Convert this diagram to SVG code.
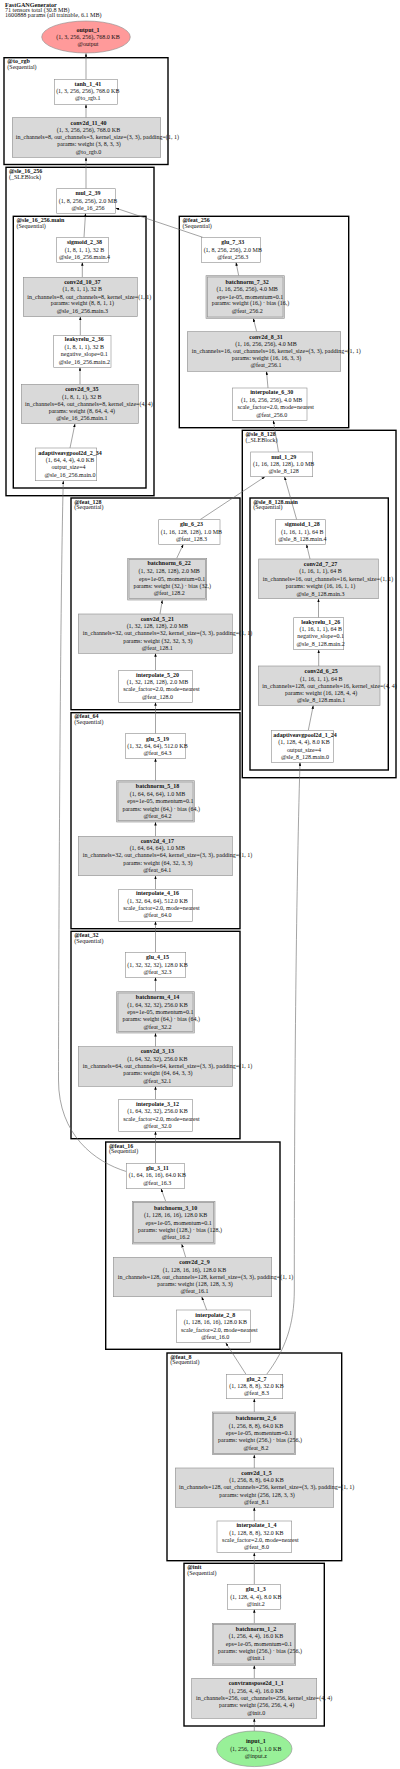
<svg xmlns="http://www.w3.org/2000/svg" width="400" height="1769" viewBox="0 0 400 1769">
<style>
text{font-family:"Liberation Serif","Times New Roman",serif;font-size:6px;fill:#111}
.h{font-size:6.1px}
.b{font-weight:bold}
.m{text-anchor:middle}
.n{fill:#fff;stroke:#8c8c8c;stroke-width:0.6}
.g{fill:#d9d9d9;stroke:#8c8c8c;stroke-width:0.6}
.cl{fill:none;stroke:#000;stroke-width:1.4}
.e{fill:none;stroke:#666;stroke-width:0.6;marker-end:url(#ah)}
</style>
<defs>
<marker id="ah" viewBox="0 0 10 7" refX="10" refY="3.5" markerWidth="3.6" markerHeight="2.5" markerUnits="userSpaceOnUse" orient="auto"><path d="M0,0 L10,3.5 L0,7 z" fill="#000"/></marker>
</defs>
<rect width="400" height="1769" fill="#fff"/>
<g id="header">
<text x="5" y="7" class="h b">FastGANGenerator</text>
<text x="5" y="12" class="h">71 tensors total (30.8 MB)</text>
<text x="5" y="17" class="h">1600888 params (all trainable, 6.1 MB)</text>
</g>
<g id="clusters">
<g id="cl_to_rgb"><rect class="cl" x="4" y="57.7" width="164" height="106.8"/><text x="7.3" y="63.4" class="b">@to_rgb</text><text x="7.3" y="68.9">(Sequential)</text></g>
<g id="cl_sle_16_256"><rect class="cl" x="6" y="167.3" width="148" height="328.4"/><text x="9" y="173" class="b">@sle_16_256</text><text x="9" y="178.5">(_SLEBlock)</text></g>
<g id="cl_sle_16_256_main"><rect class="cl" x="13.3" y="216.3" width="132.7" height="271.7"/><text x="16.5" y="222" class="b">@sle_16_256.main</text><text x="16.5" y="227.5">(Sequential)</text></g>
<g id="cl_feat_256"><rect class="cl" x="179.3" y="216.3" width="169.4" height="211.4"/><text x="182.5" y="222" class="b">@feat_256</text><text x="182.5" y="227.5">(Sequential)</text></g>
<g id="cl_sle_8_128"><rect class="cl" x="242.3" y="430.3" width="153.7" height="347.4"/><text x="245.5" y="436" class="b">@sle_8_128</text><text x="245.5" y="441.5">(_SLEBlock)</text></g>
<g id="cl_sle_8_128_main"><rect class="cl" x="250" y="498" width="138.3" height="272"/><text x="253.2" y="503.7" class="b">@sle_8_128.main</text><text x="253.2" y="509.2">(Sequential)</text></g>
<g id="cl_feat_128"><rect class="cl" x="71" y="498" width="169" height="211.7"/><text x="74.2" y="503.7" class="b">@feat_128</text><text x="74.2" y="509.2">(Sequential)</text></g>
<g id="cl_feat_64"><rect class="cl" x="71" y="712.7" width="169" height="216"/><text x="74.2" y="718.4" class="b">@feat_64</text><text x="74.2" y="723.9">(Sequential)</text></g>
<g id="cl_feat_32"><rect class="cl" x="71" y="931.3" width="169" height="207.4"/><text x="74.2" y="937" class="b">@feat_32</text><text x="74.2" y="942.5">(Sequential)</text></g>
<g id="cl_feat_16"><rect class="cl" x="105.7" y="1142" width="174.3" height="207.3"/><text x="108.9" y="1147.7" class="b">@feat_16</text><text x="108.9" y="1153.2">(Sequential)</text></g>
<g id="cl_feat_8"><rect class="cl" x="167" y="1353" width="174.7" height="207.7"/><text x="170.2" y="1358.7" class="b">@feat_8</text><text x="170.2" y="1364.2">(Sequential)</text></g>
<g id="cl_init"><rect class="cl" x="184" y="1563.3" width="140.3" height="162.7"/><text x="187.2" y="1569" class="b">@init</text><text x="187.2" y="1574.5">(Sequential)</text></g>
</g>
<g id="connectors">
<path class="e" d="M86,79.3 L86,53.2"/>
<path class="e" d="M86,117.7 L86,104.3"/>
<path class="e" d="M86,188.7 L86,157.3"/>
<path class="e" d="M84,237.3 L85.5,213.3"/>
<path class="e" d="M202.7,237.3 L115.5,208"/>
<path class="e" d="M82.3,277.3 L82.3,262.3"/>
<path class="e" d="M80.3,335.3 L80.3,316.7"/>
<path class="e" d="M80,384.3 L80,367.3"/>
<path class="e" d="M70,448 L75,423.7"/>
<path class="e" d="M126.3,1171.5 C95,1162 58.5,1135 58.5,1080 C58.5,1000 60,600 63.3,480.7"/>
<path class="e" d="M238.7,275.7 L236,262.3"/>
<path class="e" d="M256.7,331.7 L253.3,318.3"/>
<path class="e" d="M268,388 L266.5,371.3"/>
<path class="e" d="M278.5,452 L273.3,420.3"/>
<path class="e" d="M296.7,519.7 L284.5,476.7"/>
<path class="e" d="M200,519.7 L265,476.7"/>
<path class="e" d="M310,559 L306.5,544.3"/>
<path class="e" d="M318.5,617.7 L318.5,598.7"/>
<path class="e" d="M318.7,666 L318.7,649.7"/>
<path class="e" d="M308.3,730.3 L313.3,705.3"/>
<path class="e" d="M266.7,1374.3 C285,1350 294.3,1325 294.3,1290 C294.3,1100 296,900 300,762.3"/>
<path class="e" d="M176.7,558.3 L183.3,544.3"/>
<path class="e" d="M160,614 L162.3,600"/>
<path class="e" d="M155.5,670.3 L155.5,653.3"/>
<path class="e" d="M155.5,733.7 L155.5,702.3"/>
<path class="e" d="M155.5,780.7 L155.5,758.3"/>
<path class="e" d="M155.5,836.3 L155.5,822"/>
<path class="e" d="M155.5,889.3 L155.5,875.7"/>
<path class="e" d="M155.5,952.3 L155.5,921.3"/>
<path class="e" d="M155.5,991.7 L155.5,977.3"/>
<path class="e" d="M155.5,1046.7 L155.5,1033"/>
<path class="e" d="M155.5,1099.3 L155.5,1086.3"/>
<path class="e" d="M155.5,1163.3 L155.5,1131.3"/>
<path class="e" d="M165.7,1201.3 L161,1188.7"/>
<path class="e" d="M185.7,1257.3 L181.7,1244"/>
<path class="e" d="M206.7,1310 L201.7,1296.7"/>
<path class="e" d="M246,1374.3 L225.7,1342.7"/>
<path class="e" d="M254.3,1412 L254.3,1398.7"/>
<path class="e" d="M254.3,1468 L254.3,1454.7"/>
<path class="e" d="M254.3,1521 L254.3,1507.3"/>
<path class="e" d="M254.3,1584.3 L254.3,1552.7"/>
<path class="e" d="M254.3,1623.3 L254.3,1609.3"/>
<path class="e" d="M254.3,1678.3 L254.3,1665.3"/>
<path class="e" d="M254.3,1731 L254.3,1718.3"/>
</g>
<g id="output_1"><ellipse cx="86" cy="37" rx="44.3" ry="16" fill="#ff9a9a" stroke="#8c8c8c" stroke-width="0.6"/>
<text class="m b" x="88" y="32">output_1</text><text class="m" x="88" y="39.3">(1, 3, 256, 256), 768.0 KB</text><text class="m" x="88" y="46.3">@output</text></g>
<g id="tanh_1_41"><rect class="n" x="54.3" y="79.3" width="63" height="25"/>
<text class="m b" x="87.8" y="86">tanh_1_41</text><text class="m" x="87.8" y="93">(1, 3, 256, 256), 768.0 KB</text><text class="m" x="87.8" y="100.3">@to_rgb.1</text></g>
<g id="conv2d_11_40"><rect class="g" x="12.3" y="117.7" width="148.4" height="39.6"/>
<text class="m b" x="88.5" y="124.7">conv2d_11_40</text><text class="m" x="88.5" y="131.7">(1, 3, 256, 256), 768.0 KB</text><text x="15.7" y="138.7" textLength="163.3">in_channels=8, out_channels=3, kernel_size=(3, 3), padding=(1, 1)</text><text class="m" x="89" y="146.3">params: weight (3, 8, 3, 3)</text><text class="m" x="88.5" y="154">@to_rgb.0</text></g>
<g id="mul_2_39"><rect class="n" x="56.7" y="188.7" width="58.6" height="24.6"/>
<text class="m b" x="88" y="195.3">mul_2_39</text><text class="m" x="88" y="202.7">(1, 8, 256, 256), 2.0 MB</text><text class="m" x="88" y="210">@sle_16_256</text></g>
<g id="sigmoid_2_38"><rect class="n" x="56.7" y="237.3" width="51.6" height="25"/>
<text class="m b" x="84.5" y="244.3">sigmoid_2_38</text><text class="m" x="84.5" y="251.7">(1, 8, 1, 1), 32 B</text><text class="m" x="84.5" y="258.7">@sle_16_256.main.4</text></g>
<g id="conv2d_10_37"><rect class="g" x="23.3" y="277.3" width="114" height="39.4"/>
<text class="m b" x="82.3" y="284">conv2d_10_37</text><text class="m" x="82.3" y="291.3">(1, 8, 1, 1), 32 B</text><text x="27.3" y="298.7" textLength="124">in_channels=8, out_channels=8, kernel_size=(1, 1)</text><text class="m" x="82.3" y="305.3">params: weight (8, 8, 1, 1)</text><text class="m" x="82.3" y="313">@sle_16_256.main.3</text></g>
<g id="leakyrelu_2_36"><rect class="n" x="53.7" y="335.3" width="57.3" height="32"/>
<text class="m b" x="84.3" y="341.3">leakyrelu_2_36</text><text class="m" x="84.3" y="348.7">(1, 8, 1, 1), 32 B</text><text class="m" x="84.3" y="356.3">negative_slope=0.1</text><text class="m" x="84.3" y="363.7">@sle_16_256.main.2</text></g>
<g id="conv2d_9_35"><rect class="g" x="21.3" y="384.3" width="117" height="39.4"/>
<text class="m b" x="81.8" y="391.3">conv2d_9_35</text><text class="m" x="81.8" y="398.7">(1, 8, 1, 1), 32 B</text><text x="25" y="405.7" textLength="127.7">in_channels=64, out_channels=8, kernel_size=(4, 4)</text><text class="m" x="81.8" y="413">params: weight (8, 64, 4, 4)</text><text class="m" x="81.8" y="420.3">@sle_16_256.main.1</text></g>
<g id="adaptiveavgpool2d_2_34"><rect class="n" x="35.3" y="448" width="61.4" height="32.7"/>
<text class="m b" x="70" y="455">adaptiveavgpool2d_2_34</text><text class="m" x="70" y="462">(1, 64, 4, 4), 4.0 KB</text><text class="m" x="68.5" y="469.3">output_size=4</text><text class="m" x="70" y="477">@sle_16_256.main.0</text></g>
<g id="glu_7_33"><rect class="n" x="201.3" y="237.3" width="59" height="25"/>
<text class="m b" x="232.8" y="244.3">glu_7_33</text><text class="m" x="232.8" y="251.7">(1, 8, 256, 256), 2.0 MB</text><text class="m" x="232.8" y="258.7">@feat_256.3</text></g>
<g id="batchnorm_7_32"><rect class="g" x="206" y="275.7" width="78.3" height="42.6"/><rect class="g" x="207.3" y="277" width="75.7" height="40"/>
<text class="m b" x="247.2" y="284">batchnorm_7_32</text><text class="m" x="247.2" y="291.3">(1, 16, 256, 256), 4.0 MB</text><text class="m" x="250.2" y="298.7">eps=1e-05, momentum=0.1</text><text x="211.7" y="305.3" textLength="77.5">params: weight (16,) · bias (16,)</text><text class="m" x="247.2" y="313">@feat_256.2</text></g>
<g id="conv2d_8_31"><rect class="g" x="187.3" y="331.7" width="153.4" height="39.6"/>
<text class="m b" x="266" y="338.7">conv2d_8_31</text><text class="m" x="266" y="346">(1, 16, 256, 256), 4.0 MB</text><text x="191.7" y="353" textLength="169">in_channels=16, out_channels=16, kernel_size=(3, 3), padding=(1, 1)</text><text class="m" x="266.5" y="360.3">params: weight (16, 16, 3, 3)</text><text class="m" x="266" y="367.3">@feat_256.1</text></g>
<g id="interpolate_6_30"><rect class="n" x="232.3" y="388" width="74.7" height="32.3"/>
<text class="m b" x="271.7" y="394.3">interpolate_6_30</text><text class="m" x="271.7" y="401.7">(1, 16, 256, 256), 4.0 MB</text><text class="m" x="275.7" y="409.3">scale_factor=2.0, mode=nearest</text><text class="m" x="271.7" y="416.7">@feat_256.0</text></g>
<g id="mul_1_29"><rect class="n" x="250.7" y="452" width="62" height="24.7"/>
<text class="m b" x="283.7" y="458.7">mul_1_29</text><text class="m" x="283.7" y="466">(1, 16, 128, 128), 1.0 MB</text><text class="m" x="283.7" y="473.3">@sle_8_128</text></g>
<g id="sigmoid_1_28"><rect class="n" x="275.3" y="519.7" width="50" height="24.6"/>
<text class="m b" x="302.3" y="526.3">sigmoid_1_28</text><text class="m" x="302.3" y="533.7">(1, 16, 1, 1), 64 B</text><text class="m" x="302.3" y="541">@sle_8_128.main.4</text></g>
<g id="conv2d_7_27"><rect class="g" x="258.7" y="559" width="119.6" height="39.7"/>
<text class="m b" x="320.5" y="566">conv2d_7_27</text><text class="m" x="320.5" y="573.3">(1, 16, 1, 1), 64 B</text><text x="262.7" y="580.7" textLength="130.6">in_channels=16, out_channels=16, kernel_size=(1, 1)</text><text class="m" x="320.5" y="588">params: weight (16, 16, 1, 1)</text><text class="m" x="320.5" y="595.7">@sle_8_128.main.3</text></g>
<g id="leakyrelu_1_26"><rect class="n" x="293.7" y="617.7" width="50" height="32"/>
<text class="m b" x="320.7" y="623.7">leakyrelu_1_26</text><text class="m" x="320.7" y="631">(1, 16, 1, 1), 64 B</text><text class="m" x="320.7" y="638.3">negative_slope=0.1</text><text class="m" x="320.7" y="646.3">@sle_8_128.main.2</text></g>
<g id="conv2d_6_25"><rect class="g" x="258.3" y="666" width="121.7" height="39.3"/>
<text class="m b" x="321.2" y="673">conv2d_6_25</text><text class="m" x="321.2" y="680.7">(1, 16, 1, 1), 64 B</text><text x="262.3" y="688" textLength="134.4">in_channels=128, out_channels=16, kernel_size=(4, 4)</text><text class="m" x="321.2" y="695">params: weight (16, 128, 4, 4)</text><text class="m" x="321.2" y="702.3">@sle_8_128.main.1</text></g>
<g id="adaptiveavgpool2d_1_24"><rect class="n" x="271.3" y="730.3" width="62" height="32"/>
<text class="m b" x="305" y="736.7">adaptiveavgpool2d_1_24</text><text class="m" x="304" y="744.3">(1, 128, 4, 4), 8.0 KB</text><text class="m" x="304" y="751.7">output_size=4</text><text class="m" x="305" y="758.7">@sle_8_128.main.0</text></g>
<g id="glu_6_23"><rect class="n" x="158.7" y="519.7" width="61.3" height="24.6"/>
<text class="m b" x="191.4" y="526.3">glu_6_23</text><text class="m" x="191.4" y="533.7">(1, 16, 128, 128), 1.0 MB</text><text class="m" x="191.4" y="541">@feat_128.3</text></g>
<g id="batchnorm_6_22"><rect class="g" x="127.7" y="558.3" width="79" height="41.7"/><rect class="g" x="129" y="559.6" width="76.4" height="39.1"/>
<text class="m b" x="169.2" y="565.3">batchnorm_6_22</text><text class="m" x="169.2" y="573">(1, 32, 128, 128), 2.0 MB</text><text class="m" x="172.2" y="580.7">eps=1e-05, momentum=0.1</text><text x="133.4" y="588" textLength="77.5">params: weight (32,) · bias (32,)</text><text class="m" x="169.2" y="595.3">@feat_128.2</text></g>
<g id="conv2d_5_21"><rect class="g" x="78.3" y="614" width="154" height="39.3"/>
<text class="m b" x="157.3" y="620.7">conv2d_5_21</text><text class="m" x="157.3" y="628">(1, 32, 128, 128), 2.0 MB</text><text x="82.7" y="635.3" textLength="169.6">in_channels=32, out_channels=32, kernel_size=(3, 3), padding=(1, 1)</text><text class="m" x="157.8" y="642.7">params: weight (32, 32, 3, 3)</text><text class="m" x="157.3" y="650">@feat_128.1</text></g>
<g id="interpolate_5_20"><rect class="n" x="118.7" y="670.3" width="73.6" height="32"/>
<text class="m b" x="157.5" y="676.7">interpolate_5_20</text><text class="m" x="157.5" y="684">(1, 32, 128, 128), 2.0 MB</text><text class="m" x="161.5" y="691.3">scale_factor=2.0, mode=nearest</text><text class="m" x="157.5" y="698.7">@feat_128.0</text></g>
<g id="glu_5_19"><rect class="n" x="125.3" y="733.7" width="60.4" height="24.6"/>
<text class="m b" x="157.5" y="740.7">glu_5_19</text><text class="m" x="157.5" y="748">(1, 32, 64, 64), 512.0 KB</text><text class="m" x="157.5" y="755.3">@feat_64.3</text></g>
<g id="batchnorm_5_18"><rect class="g" x="116.7" y="780.7" width="77.6" height="41.3"/><rect class="g" x="118" y="782" width="75" height="38.7"/>
<text class="m b" x="157.5" y="788">batchnorm_5_18</text><text class="m" x="157.5" y="795.7">(1, 64, 64, 64), 1.0 MB</text><text class="m" x="160.5" y="803">eps=1e-05, momentum=0.1</text><text x="122.4" y="810.7" textLength="77.5">params: weight (64,) · bias (64,)</text><text class="m" x="157.5" y="818">@feat_64.2</text></g>
<g id="conv2d_4_17"><rect class="g" x="78.3" y="836.3" width="154" height="39.4"/>
<text class="m b" x="157.3" y="842.7">conv2d_4_17</text><text class="m" x="157.3" y="850">(1, 64, 64, 64), 1.0 MB</text><text x="82.7" y="857.3" textLength="169.6">in_channels=32, out_channels=64, kernel_size=(3, 3), padding=(1, 1)</text><text class="m" x="157.8" y="864.7">params: weight (64, 32, 3, 3)</text><text class="m" x="157.3" y="872">@feat_64.1</text></g>
<g id="interpolate_4_16"><rect class="n" x="118.7" y="889.3" width="73.6" height="32"/>
<text class="m b" x="157.5" y="895.3">interpolate_4_16</text><text class="m" x="157.5" y="902.7">(1, 32, 64, 64), 512.0 KB</text><text class="m" x="161.5" y="910">scale_factor=2.0, mode=nearest</text><text class="m" x="157.5" y="917.3">@feat_64.0</text></g>
<g id="glu_4_15"><rect class="n" x="125.3" y="952.3" width="60.4" height="25"/>
<text class="m b" x="157.5" y="959.3">glu_4_15</text><text class="m" x="157.5" y="966.7">(1, 32, 32, 32), 128.0 KB</text><text class="m" x="157.5" y="974">@feat_32.3</text></g>
<g id="batchnorm_4_14"><rect class="g" x="116.7" y="991.7" width="77.6" height="41.3"/><rect class="g" x="118" y="993" width="75" height="38.7"/>
<text class="m b" x="157.5" y="999">batchnorm_4_14</text><text class="m" x="157.5" y="1006.7">(1, 64, 32, 32), 256.0 KB</text><text class="m" x="160.5" y="1014">eps=1e-05, momentum=0.1</text><text x="122.4" y="1021.3" textLength="77.5">params: weight (64,) · bias (64,)</text><text class="m" x="157.5" y="1028.7">@feat_32.2</text></g>
<g id="conv2d_3_13"><rect class="g" x="78.3" y="1046.7" width="154" height="39.6"/>
<text class="m b" x="157.3" y="1053.3">conv2d_3_13</text><text class="m" x="157.3" y="1060.7">(1, 64, 32, 32), 256.0 KB</text><text x="82.7" y="1068" textLength="169.6">in_channels=64, out_channels=64, kernel_size=(3, 3), padding=(1, 1)</text><text class="m" x="157.8" y="1075.3">params: weight (64, 64, 3, 3)</text><text class="m" x="157.3" y="1082.7">@feat_32.1</text></g>
<g id="interpolate_3_12"><rect class="n" x="118.7" y="1099.3" width="73.6" height="32"/>
<text class="m b" x="157.5" y="1106">interpolate_3_12</text><text class="m" x="157.5" y="1113.3">(1, 64, 32, 32), 256.0 KB</text><text class="m" x="161.5" y="1120.7">scale_factor=2.0, mode=nearest</text><text class="m" x="157.5" y="1128">@feat_32.0</text></g>
<g id="glu_3_11"><rect class="n" x="126.3" y="1163.3" width="58" height="25.4"/>
<text class="m b" x="157.3" y="1170">glu_3_11</text><text class="m" x="157.3" y="1177.3">(1, 64, 16, 16), 64.0 KB</text><text class="m" x="157.3" y="1184.7">@feat_16.3</text></g>
<g id="batchnorm_3_10"><rect class="g" x="132.3" y="1201.3" width="82.7" height="42.7"/><rect class="g" x="133.6" y="1202.6" width="80.1" height="40.1"/>
<text class="m b" x="175.7" y="1210">batchnorm_3_10</text><text class="m" x="175.7" y="1217.3">(1, 128, 16, 16), 128.0 KB</text><text class="m" x="178.7" y="1224.7">eps=1e-05, momentum=0.1</text><text x="138" y="1232" textLength="84">params: weight (128,) · bias (128,)</text><text class="m" x="175.7" y="1239">@feat_16.2</text></g>
<g id="conv2d_2_9"><rect class="g" x="113.3" y="1257.3" width="158.4" height="39.4"/>
<text class="m b" x="194.5" y="1264.3">conv2d_2_9</text><text class="m" x="194.5" y="1271.7">(1, 128, 16, 16), 128.0 KB</text><text x="117.7" y="1279" textLength="175.6">in_channels=128, out_channels=128, kernel_size=(3, 3), padding=(1, 1)</text><text class="m" x="195" y="1286">params: weight (128, 128, 3, 3)</text><text class="m" x="194.5" y="1293.3">@feat_16.1</text></g>
<g id="interpolate_2_8"><rect class="n" x="176.3" y="1310" width="74" height="32.7"/>
<text class="m b" x="215.3" y="1316.7">interpolate_2_8</text><text class="m" x="215.3" y="1324">(1, 128, 16, 16), 128.0 KB</text><text class="m" x="219.3" y="1331.7">scale_factor=2.0, mode=nearest</text><text class="m" x="215.3" y="1338.7">@feat_16.0</text></g>
<g id="glu_2_7"><rect class="n" x="226.3" y="1374.3" width="56.4" height="24.4"/>
<text class="m b" x="256.5" y="1381">glu_2_7</text><text class="m" x="256.5" y="1388">(1, 128, 8, 8), 32.0 KB</text><text class="m" x="256.5" y="1395.3">@feat_8.3</text></g>
<g id="batchnorm_2_6"><rect class="g" x="212.3" y="1412" width="83.4" height="42.7"/><rect class="g" x="213.6" y="1413.3" width="80.8" height="40.1"/>
<text class="m b" x="256" y="1420.3">batchnorm_2_6</text><text class="m" x="256" y="1428">(1, 256, 8, 8), 64.0 KB</text><text class="m" x="259" y="1435.3">eps=1e-05, momentum=0.1</text><text x="218" y="1442.3" textLength="84">params: weight (256,) · bias (256,)</text><text class="m" x="256" y="1450">@feat_8.2</text></g>
<g id="conv2d_1_5"><rect class="g" x="175.3" y="1468" width="158.4" height="39.3"/>
<text class="m b" x="256.5" y="1474.7">conv2d_1_5</text><text class="m" x="256.5" y="1482">(1, 256, 8, 8), 64.0 KB</text><text x="179" y="1489.3" textLength="175.3">in_channels=128, out_channels=256, kernel_size=(3, 3), padding=(1, 1)</text><text class="m" x="257" y="1497">params: weight (256, 128, 3, 3)</text><text class="m" x="256.5" y="1504.3">@feat_8.1</text></g>
<g id="interpolate_1_4"><rect class="n" x="217" y="1521" width="74.7" height="31.7"/>
<text class="m b" x="256.4" y="1527.3">interpolate_1_4</text><text class="m" x="256.4" y="1534.7">(1, 128, 8, 8), 32.0 KB</text><text class="m" x="260.4" y="1542">scale_factor=2.0, mode=nearest</text><text class="m" x="256.4" y="1549.3">@feat_8.0</text></g>
<g id="glu_1_3"><rect class="n" x="227.3" y="1584.3" width="53" height="25"/>
<text class="m b" x="255.8" y="1591.3">glu_1_3</text><text class="m" x="255.8" y="1598.7">(1, 128, 4, 4), 8.0 KB</text><text class="m" x="255.8" y="1606">@init.2</text></g>
<g id="batchnorm_1_2"><rect class="g" x="212.3" y="1623.3" width="83.4" height="42"/><rect class="g" x="213.6" y="1624.6" width="80.8" height="39.4"/>
<text class="m b" x="256" y="1631">batchnorm_1_2</text><text class="m" x="256" y="1638.3">(1, 256, 4, 4), 16.0 KB</text><text class="m" x="259" y="1645.7">eps=1e-05, momentum=0.1</text><text x="218" y="1653" textLength="84">params: weight (256,) · bias (256,)</text><text class="m" x="256" y="1660.3">@init.1</text></g>
<g id="convtranspose2d_1_1"><rect class="g" x="191.7" y="1678.3" width="125" height="40"/>
<text class="m b" x="256.2" y="1685.3">convtranspose2d_1_1</text><text class="m" x="256.2" y="1692.7">(1, 256, 4, 4), 16.0 KB</text><text x="196" y="1700" textLength="136.3">in_channels=256, out_channels=256, kernel_size=(4, 4)</text><text class="m" x="256.7" y="1707.3">params: weight (256, 256, 4, 4)</text><text class="m" x="256.2" y="1714.7">@init.0</text></g>
<g id="input_1"><ellipse cx="254.3" cy="1748.8" rx="37.7" ry="17.8" fill="#98f098" stroke="#8c8c8c" stroke-width="0.6"/>
<text class="m b" x="255.8" y="1743">input_1</text><text class="m" x="255.8" y="1750.7">(1, 256, 1, 1), 1.0 KB</text><text class="m" x="255.8" y="1757.7">@input.z</text></g>
</svg>
